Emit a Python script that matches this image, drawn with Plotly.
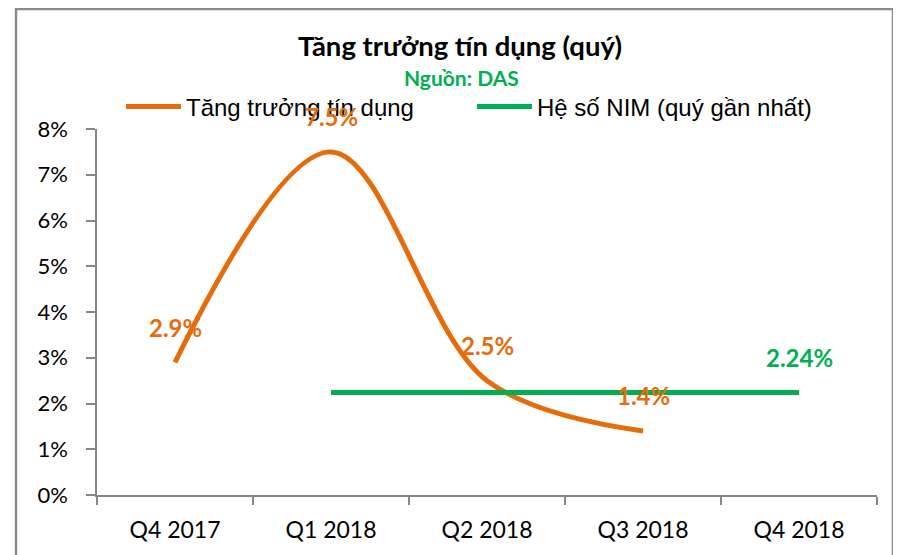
import plotly.graph_objects as go

# data
quarters = ["Q4 2017", "Q1 2018", "Q2 2018", "Q3 2018", "Q4 2018"]
credit_growth = [0.029, 0.075, 0.025, 0.014, None]
nim = [None, 0.0224, 0.0224, 0.0224, 0.0224]
nim_label_idx = [4]

orange = "#E46C0A"
green = "#00B050"
gray = "#868686"

# page has an 8px body margin, so work in reference pixels minus 8
OFF = 8
W, H = 901, 555
L, T = 97 - OFF, 129 - OFF
pw, ph = 780, 366
R = W - L - pw
B = H - T - ph

def px_x(p):
    return (p - OFF - L) / pw

def px_y(p):
    return (T + ph - (p - OFF)) / ph

fig = go.Figure()
fig.add_trace(go.Scatter(x=quarters, y=credit_growth, mode="lines", name="Tăng trưởng tín dụng",
                         line=dict(color=orange, width=5, shape="spline", smoothing=1.0)))
fig.add_trace(go.Scatter(x=quarters, y=nim, mode="lines", name="Hệ số NIM (quý gần nhất)",
                         line=dict(color=green, width=5)))

# data labels
for q, v in zip(quarters, credit_growth):
    if v is None:
        continue
    fig.add_annotation(x=q, y=v, text=f"<b>{v*100:.1f}%</b>", showarrow=False, yshift=35,
                       font=dict(family="Lato", size=24, color=orange))
for i in nim_label_idx:
    fig.add_annotation(x=quarters[i], y=nim[i], text=f"<b>{nim[i]*100:.2f}%</b>", showarrow=False, yshift=35,
                       font=dict(family="Lato", size=24, color=green))

fig.add_annotation(xref="paper", yref="paper", x=px_x(461), y=px_y(63), text="<b>Nguồn: DAS</b>",
                   showarrow=False, font=dict(family="Lato", size=21, color=green))

# chart frame
fig.add_shape(type="rect", xref="paper", yref="paper", x0=px_x(16), x1=px_x(893), y0=px_y(620), y1=px_y(9),
              line=dict(color="#8C8C8C", width=2.5), layer="below")

fig.update_layout(
    width=W, height=H,
    margin=dict(l=L, r=R, t=T, b=B),
    paper_bgcolor="white", plot_bgcolor="white",
    title=dict(text="<b>Tăng trưởng tín dụng (quý)</b>", x=(460 - OFF) / W, xanchor="center",
               y=1 - (46 - OFF) / H, yanchor="middle", font=dict(family="Lato", size=27.5, color="black")),
    showlegend=True,
    legend=dict(orientation="h", x=px_x(121), y=px_y(107), xanchor="left", yanchor="middle",
                font=dict(family="Liberation Sans", size=24, color="black"),
                itemwidth=55, entrywidth=281, bgcolor="rgba(0,0,0,0)"),
    xaxis=dict(type="category", range=[-0.5, 4.5], showline=True, linecolor=gray, linewidth=1.5,
               ticks="outside", tickson="boundaries", ticklen=8, tickcolor=gray, tickwidth=1.5,
               ticklabelstandoff=14,
               showgrid=False, tickfont=dict(family="Lato", size=23, color="black")),
    yaxis=dict(range=[0, 0.08], dtick=0.01, tickformat=".0%", showline=True, linecolor=gray, linewidth=1.5,
               ticks="outside", ticklen=9, tickcolor=gray, tickwidth=1.5, showgrid=False, zeroline=False,
               ticklabelstandoff=14,
               tickfont=dict(family="Lato", size=22, color="black")),
)

fig.write_html("out.html")
